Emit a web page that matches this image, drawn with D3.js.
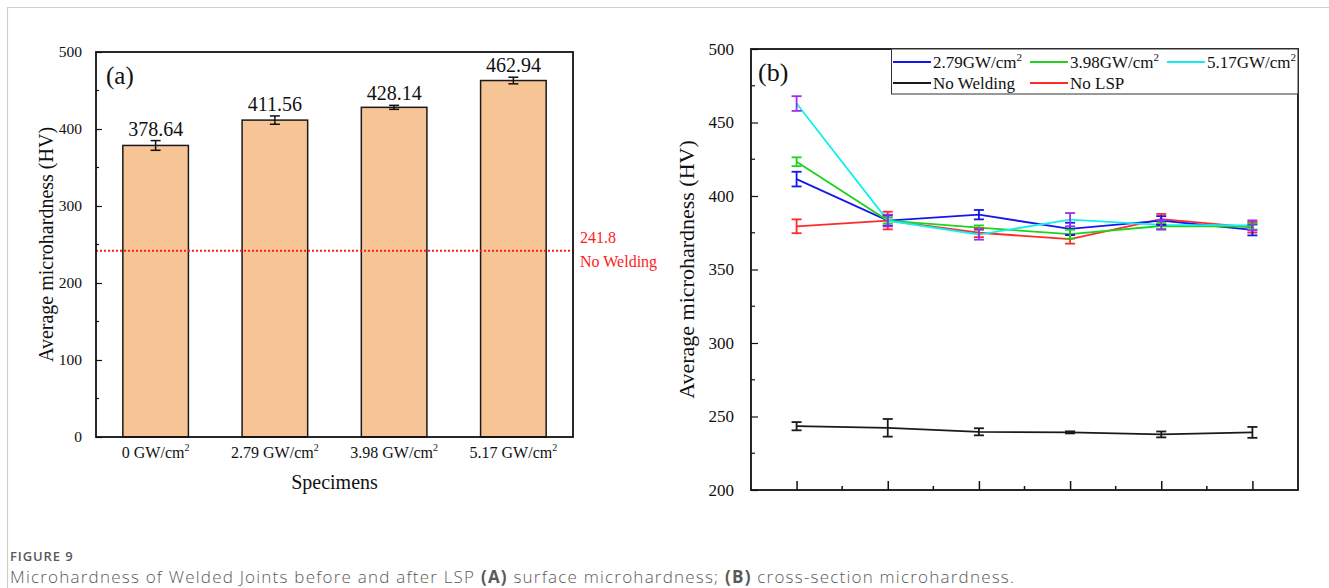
<!DOCTYPE html>
<html><head><meta charset="utf-8">
<script src="https://cdn.jsdelivr.net/npm/d3@7"></script>
<style>
html,body{margin:0;padding:0;background:#fff;}
svg{display:block;}
</style></head>
<body>
<svg id="chart" width="1329" height="588"></svg>
<script>
// ---------- Panel (a) data ----------
const barCategories = ["0", "2.79", "3.98", "5.17"];
const barValues = [378.64, 411.56, 428.14, 462.94];
const barErrors = [6.3, 5.4, 2.6, 4.3];
const barYTicks = [0, 100, 200, 300, 400, 500];
const noWeldingRef = 241.8;

// ---------- Panel (b) data ----------
const positions = [1, 2, 3, 4, 5, 6];
const noWelding = [243.4, 242.3, 239.6, 239.2, 237.8, 239.2];
const noWeldingErr = [2.8, 6, 2.4, 0.7, 2, 3.7];
const noLSP = [379.4, 383.3, 375.0, 370.6, 384.2, 378.7];
const noLSPErr = [4.7, 6, 3, 3, 3.6, 3.6];
const lsp279 = [411.5, 383.3, 387.3, 377.6, 383.3, 376.9];
const lsp279Err = [5, 3.4, 3.2, 4.2, 3, 3.7];
const lsp398 = [423.3, 383.3, 378.5, 374.0, 379.6, 379.2];
const lsp398Err = [3, 2, 1.5, 3, 2, 2];
const lsp517 = [462.9, 383.3, 373.8, 383.9, 380.3, 380.0];
const lsp517Err = [5, 4, 3.5, 4.5, 3.2, 3.4];
const lineYTicks = [200, 250, 300, 350, 400, 450, 500];

const serif = "'Liberation Serif','Times New Roman',serif";
const svg = d3.select("#chart");

svg.append("line").attr("x1",7).attr("x2",1329).attr("y1",7.5).attr("y2",7.5).attr("stroke","#cfcfcf").attr("stroke-width",1.2);
svg.append("line").attr("x1",7.5).attr("x2",7.5).attr("y1",7).attr("y2",588).attr("stroke","#cfcfcf").attr("stroke-width",1.2);

// ================= Panel (a) =================
const A = {l:96, r:573, t:52, b:437};
const xA = d3.scaleBand().domain(barCategories).range([A.l, A.r]).paddingInner(0.45).paddingOuter(0.225);
const yA = d3.scaleLinear().domain([0, 500]).range([A.b, A.t]);
const gA = svg.append("g");

gA.selectAll("rect.bar").data(barValues).join("rect")
  .attr("x", (d,i)=>xA(barCategories[i]))
  .attr("y", d=>yA(d))
  .attr("width", xA.bandwidth())
  .attr("height", d=>yA(0)-yA(d))
  .attr("fill", "#f7c496")
  .attr("stroke", "#1a1a1a").attr("stroke-width", 1.5);

barValues.forEach((v,i)=>{
  const cx = xA(barCategories[i]) + xA.bandwidth()/2;
  const e = barErrors[i];
  const g = gA.append("g").attr("stroke","#111").attr("stroke-width",1.5);
  g.append("line").attr("x1",cx).attr("x2",cx).attr("y1",yA(v-e)).attr("y2",yA(v+e));
  g.append("line").attr("x1",cx-5).attr("x2",cx+5).attr("y1",yA(v-e)).attr("y2",yA(v-e));
  g.append("line").attr("x1",cx-5).attr("x2",cx+5).attr("y1",yA(v+e)).attr("y2",yA(v+e));
  gA.append("text").attr("x",cx).attr("y",yA(v+e)-5)
    .attr("text-anchor","middle").attr("font-family",serif).attr("font-size",20).attr("fill","#111")
    .text(v.toFixed(2));
});

gA.append("line").attr("x1",A.l).attr("x2",A.r).attr("y1",yA(noWeldingRef)).attr("y2",yA(noWeldingRef))
  .attr("stroke","#ff1a1a").attr("stroke-width",2).attr("stroke-dasharray","2,2");
gA.append("text").attr("x",580).attr("y",yA(noWeldingRef)-8).attr("font-family",serif).attr("font-size",16).attr("fill","#ff1a1a").text(noWeldingRef.toString());
gA.append("text").attr("x",580).attr("y",yA(noWeldingRef)+16).attr("font-family",serif).attr("font-size",16).attr("fill","#ff1a1a").text("No Welding");

const yAxisA = d3.axisLeft(yA).tickValues(barYTicks).tickSize(-6).tickPadding(14);
const yaxA = gA.append("g").attr("transform",`translate(${A.l},0)`).call(yAxisA);
yaxA.select(".domain").remove();
yaxA.selectAll("text").attr("font-family",serif).attr("font-size",15.5).attr("fill","#111");
yaxA.selectAll("line").attr("stroke","#111").attr("stroke-width",1.2);
gA.selectAll("line.minorA").data(d3.range(50,500,100)).join("line")
  .attr("x1",A.l).attr("x2",A.l+3).attr("y1",d=>yA(d)).attr("y2",d=>yA(d)).attr("stroke","#111").attr("stroke-width",1.2);

gA.append("rect").attr("x",A.l).attr("y",A.t).attr("width",A.r-A.l).attr("height",A.b-A.t)
  .attr("fill","none").attr("stroke","#111").attr("stroke-width",1.8);

barCategories.forEach(c=>{
  const cx = xA(c) + xA.bandwidth()/2;
  const t = gA.append("text").attr("x",cx).attr("y",458).attr("text-anchor","middle")
    .attr("font-family",serif).attr("font-size",16).attr("fill","#111");
  t.append("tspan").text(c+" GW/cm");
  t.append("tspan").attr("dy",-7).attr("font-size",10).text("2");
});
gA.append("text").attr("x",(A.l+A.r)/2).attr("y",489).attr("text-anchor","middle")
  .attr("font-family",serif).attr("font-size",20).attr("fill","#111").text("Specimens");
gA.append("text").attr("transform",`translate(53,${(A.t+A.b)/2}) rotate(-90)`).attr("text-anchor","middle")
  .attr("font-family",serif).attr("font-size",20).attr("fill","#111").text("Average microhardness (HV)");
gA.append("text").attr("x",106).attr("y",84).attr("font-family",serif).attr("font-size",25).attr("fill","#111").text("(a)");

// ================= Panel (b) =================
const B = {l:751, r:1298, t:49, b:490};
const xB = d3.scaleLinear().domain([0.5, 6.5]).range([B.l, B.r]);
const yB = d3.scaleLinear().domain([200, 500]).range([B.b, B.t]);
const gB = svg.append("g");

const yAxisB = d3.axisLeft(yB).tickValues(lineYTicks).tickSize(-7).tickPadding(17);
const yaxB = gB.append("g").attr("transform",`translate(${B.l},0)`).call(yAxisB);
yaxB.select(".domain").remove();
yaxB.selectAll("text").attr("font-family",serif).attr("font-size",17).attr("fill","#111");
yaxB.selectAll("line").attr("stroke","#111").attr("stroke-width",1.2);
gB.selectAll("line.minorB").data(d3.range(225,500,50)).join("line")
  .attr("x1",B.l).attr("x2",B.l+4).attr("y1",d=>yB(d)).attr("y2",d=>yB(d)).attr("stroke","#111").attr("stroke-width",1.2);

const xAxisB = d3.axisBottom(xB).tickValues(positions).tickSize(-9).tickFormat("");
const xaxB = gB.append("g").attr("transform",`translate(0,${B.b})`).call(xAxisB);
xaxB.select(".domain").remove();
xaxB.selectAll("line").attr("stroke","#111").attr("stroke-width",1.5);
gB.selectAll("line.minorX").data(d3.range(1.5,6.5,1)).join("line")
  .attr("x1",d=>xB(d)).attr("x2",d=>xB(d)).attr("y1",B.b).attr("y2",B.b-4).attr("stroke","#111").attr("stroke-width",1.5);

const series = [
  {vals:noWelding, err:noWeldingErr, color:"#1a1a1a", errColor:"#1a1a1a"},
  {vals:noLSP, err:noLSPErr, color:"#ff2a2a", errColor:"#ff2a2a"},
  {vals:lsp279, err:lsp279Err, color:"#1515f0", errColor:"#1515f0"},
  {vals:lsp398, err:lsp398Err, color:"#1ed21e", errColor:"#1ed21e"},
  {vals:lsp517, err:lsp517Err, color:"#10f0f0", errColor:"#9a30ee"}
];
const line = d3.line().x((d,i)=>xB(positions[i])).y(d=>yB(d));
series.forEach(s=>{
  gB.append("path").datum(s.vals).attr("d",line).attr("fill","none").attr("stroke",s.color).attr("stroke-width",1.8);
});
series.forEach(s=>{
  const g = gB.append("g").attr("stroke",s.errColor).attr("stroke-width",1.8);
  s.vals.forEach((v,i)=>{
    const cx = xB(positions[i]), e = s.err[i];
    g.append("line").attr("x1",cx).attr("x2",cx).attr("y1",yB(v-e)).attr("y2",yB(v+e));
    g.append("line").attr("x1",cx-5).attr("x2",cx+5).attr("y1",yB(v-e)).attr("y2",yB(v-e));
    g.append("line").attr("x1",cx-5).attr("x2",cx+5).attr("y1",yB(v+e)).attr("y2",yB(v+e));
  });
});

gB.append("rect").attr("x",B.l).attr("y",B.t).attr("width",B.r-B.l).attr("height",B.b-B.t)
  .attr("fill","none").attr("stroke","#111").attr("stroke-width",1.8);

const lg = gB.append("g");
lg.append("rect").attr("x",891.5).attr("y",B.t).attr("width",B.r-891.5).attr("height",45)
  .attr("fill","#fff").attr("stroke","#333").attr("stroke-width",1);
const legendItems = [
  {label:"2.79GW/cm", sup:true, color:"#1515f0", x:893, y:62},
  {label:"3.98GW/cm", sup:true, color:"#1ed21e", x:1030, y:62},
  {label:"5.17GW/cm", sup:true, color:"#10f0f0", x:1167, y:62},
  {label:"No Welding", sup:false, color:"#1a1a1a", x:893, y:83},
  {label:"No LSP", sup:false, color:"#ff2a2a", x:1030, y:83}
];
legendItems.forEach(it=>{
  lg.append("line").attr("x1",it.x).attr("x2",it.x+38).attr("y1",it.y).attr("y2",it.y).attr("stroke",it.color).attr("stroke-width",1.8);
  const t = lg.append("text").attr("x",it.x+40).attr("y",it.y+6).attr("font-family",serif).attr("font-size",17).attr("fill","#111");
  t.append("tspan").text(it.label);
  if (it.sup) t.append("tspan").attr("dy",-7).attr("font-size",11).text("2");
});

gB.append("text").attr("transform",`translate(694,${(B.t+B.b)/2}) rotate(-90)`).attr("text-anchor","middle")
  .attr("font-family",serif).attr("font-size",22).attr("fill","#111").text("Average microhardness (HV)");
gB.append("text").attr("x",758).attr("y",81).attr("font-family",serif).attr("font-size",26).attr("fill","#111").text("(b)");

// caption
const sans = "'Open Sans','Noto Sans',sans-serif";
svg.append("text").attr("x",10).attr("y",561).attr("font-family",sans).attr("font-size",13)
  .attr("font-weight",600).attr("letter-spacing",0.9).attr("fill","#5a5a5a").text("FIGURE 9");
const cap = svg.append("text").attr("x",10).attr("y",583).attr("font-family",sans).attr("font-size",17)
  .attr("font-weight",300).attr("fill","#5a5a5a");
cap.append("tspan").text("Microhardness of Welded Joints before and after LSP ");
cap.append("tspan").attr("font-weight",700).text("(A)");
cap.append("tspan").text(" surface microhardness; ");
cap.append("tspan").attr("font-weight",700).text("(B)");
cap.append("tspan").text(" cross-section microhardness.");
const capW = cap.node().getComputedTextLength();
const nChars = cap.text().length;
const ls = Math.max(0, (1005 - capW) / nChars);
cap.attr("letter-spacing", ls.toFixed(2));
</script>
</body></html>
